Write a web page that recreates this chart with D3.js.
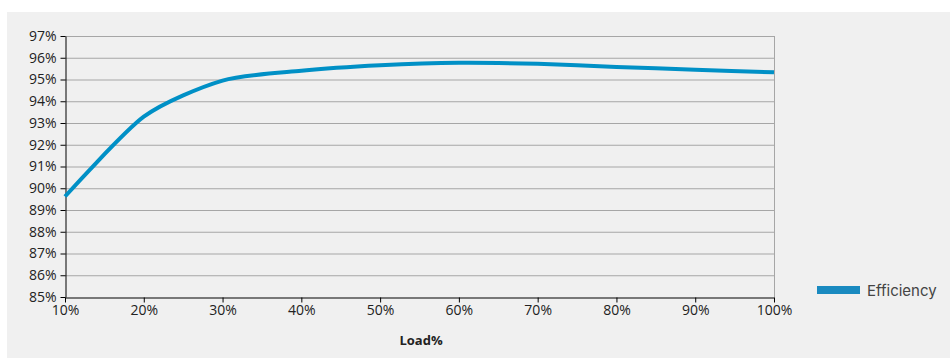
<!DOCTYPE html>
<html><head><meta charset="utf-8">
<script src="https://cdn.jsdelivr.net/npm/d3@7/dist/d3.min.js"></script>
<style>
body{margin:0;background:#fff;}
svg{display:block;font-family:"Open Sans","Noto Sans",sans-serif;}
</style></head>
<body><svg id="c" width="950" height="358"></svg>
<script>
const loads = [10,20,30,40,50,60,70,80,90,100];
const efficiency = [89.62,93.29,94.95,95.40,95.65,95.77,95.72,95.58,95.45,95.33];
const yTicks = [85,86,87,88,89,90,91,92,93,94,95,96,97];
const xTicks = [10,20,30,40,50,60,70,80,90,100];
const seriesName = "Efficiency";
const xTitle = "Load%";

const svg = d3.select("#c");
svg.append("rect").attr("x",7).attr("y",12).attr("width",943).attr("height",346).attr("fill","#f0f0f0");

const L=65,R=774,T=36,B=297;
const x = d3.scaleLinear().domain([10,100]).range([L,R]);
const y = d3.scaleLinear().domain([85,97]).range([B,T]);

svg.append("g").selectAll("line").data(yTicks.filter(d=>d>85)).join("line")
  .attr("x1",L).attr("x2",R).attr("y1",d=>y(d)+0.5).attr("y2",d=>y(d)+0.5)
  .attr("stroke","#a6a6a6").attr("stroke-width",1);
svg.append("line").attr("x1",R+0.5).attr("x2",R+0.5).attr("y1",T).attr("y2",B)
  .attr("stroke","#a6a6a6");

const yAxis = svg.append("g").attr("transform",`translate(${L+0.5},0)`)
  .call(d3.axisLeft(y).tickValues(yTicks).tickSize(5).tickSizeOuter(0).tickFormat(d=>d+"%"));
const xAxis = svg.append("g").attr("transform",`translate(0,${B+0.5})`)
  .call(d3.axisBottom(x).tickValues(xTicks).tickSize(5).tickSizeOuter(0).tickFormat(d=>d+"%"));
[yAxis,xAxis].forEach(a=>{
  a.select(".domain").attr("stroke","#000");
  a.selectAll(".tick line").attr("stroke","#000");
  a.selectAll("text").attr("fill","#222").style("font-size","14px").style("font-family","'Open Sans','Noto Sans',sans-serif");
});
yAxis.selectAll("text").attr("x",-9);
xAxis.selectAll("text").attr("y",8);

const line = d3.line().x((d,i)=>x(loads[i])).y(d=>y(d)).curve(d3.curveCardinal.tension(0.25));
svg.append("path").datum(efficiency).attr("d",line).attr("fill","none")
  .attr("stroke","#0090c6").attr("stroke-width",4);

svg.append("text").attr("x",421).attr("y",345).attr("text-anchor","middle")
  .attr("font-weight","bold").attr("font-size","13px").attr("fill","#222").text(xTitle);

svg.append("rect").attr("x",817).attr("y",286).attr("width",43).attr("height",8).attr("fill","#1a8ac0");
svg.append("text").attr("x",867).attr("y",296).attr("font-size","15px").attr("fill","#444")
  .style("font-family","Inter,Roboto,sans-serif").text(seriesName);
</script></body></html>
